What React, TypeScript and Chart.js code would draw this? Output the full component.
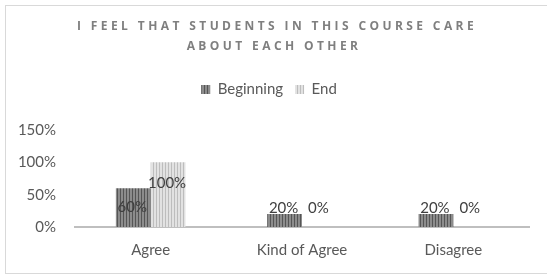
import React, { useEffect, useRef } from "react";
import { Chart, registerables } from "chart.js";

Chart.register(...registerables);

const titleLines = ["I FEEL THAT STUDENTS IN THIS COURSE CARE", "ABOUT EACH OTHER"];
const categories = ["Agree", "Kind of Agree", "Disagree"];
const seriesNames = ["Beginning", "End"];
const beginningValues = [0.6, 0.2, 0.2];
const endValues = [1.0, 0.0, 0.0];
const yTicks = [0, 0.5, 1.0, 1.5];

const FONT = "Lato, 'Open Sans', sans-serif";
const TFONT = "'Open Sans', 'Noto Sans', sans-serif";
const LEGEND_EXTRA = 23;

function makeStripe(dark: string, light: string): CanvasPattern | string {
  const c = document.createElement("canvas");
  c.width = 3;
  c.height = 4;
  const g = c.getContext("2d");
  if (!g) return dark;
  g.fillStyle = light;
  g.fillRect(0, 0, 3, 4);
  g.fillStyle = dark;
  g.fillRect(0, 0, 1, 4);
  const p = g.createPattern(c, "repeat");
  return p || dark;
}

const legendGapPlugin = {
  id: "legendGap",
  beforeLayout(chart: any) {
    const lg = chart.legend;
    if (lg && !lg.__gapPatched) {
      const orig = lg.fit.bind(lg);
      lg.fit = function () {
        orig();
        this.height += LEGEND_EXTRA;
      };
      lg.__gapPatched = true;
    }
  },
};

const framePlugin = {
  id: "frame",
  beforeDraw(chart: any) {
    const ctx = chart.ctx;
    ctx.save();
    ctx.fillStyle = "#ffffff";
    ctx.fillRect(0, 0, chart.width, chart.height);
    ctx.strokeStyle = "#d9d9d9";
    ctx.lineWidth = 1;
    ctx.strokeRect(5.5, 5.5, chart.width - 4, chart.height - 7);
    ctx.restore();
  },
  afterDraw(chart: any) {
    const ctx = chart.ctx;
    ctx.save();
    ctx.fillStyle = "#7f7f7f";
    ctx.font = `bold 12px ${TFONT}`;
    (ctx as any).letterSpacing = "3.4px";
    ctx.textAlign = "center";
    ctx.textBaseline = "middle";
    ctx.fillText(titleLines[0], 277, 27);
    ctx.fillText(titleLines[1], 274, 47);
    ctx.restore();
  },
};

const labelPlugin = {
  id: "barLabels",
  afterDatasetsDraw(chart: any) {
    const ctx = chart.ctx;
    const base = chart.scales.y.getPixelForValue(0);
    ctx.save();
    ctx.fillStyle = "#404040";
    ctx.font = `15px ${FONT}`;
    ctx.textAlign = "center";
    ctx.textBaseline = "middle";
    chart.data.datasets.forEach((ds: any, di: number) => {
      const meta = chart.getDatasetMeta(di);
      meta.data.forEach((bar: any, i: number) => {
        const v = ds.data[i];
        const center = (bar.y + base) / 2;
        const y = Math.min(center, base - 19, bar.y + 21);
        ctx.fillText(`${Math.round(v * 100)}%`, bar.x - 1, y);
      });
    });
    ctx.restore();
  },
};

export default function App() {
  const ref = useRef<HTMLCanvasElement | null>(null);
  useEffect(() => {
    document.body.style.margin = "0";
    if (!ref.current) return;
    const darkPat = makeStripe("#555555", "#8c8c8c");
    const lightPat = makeStripe("#bdbdbd", "#e2e2e2");
    const chart = new Chart(ref.current, {
      type: "bar",
      data: {
        labels: categories,
        datasets: [
          {
            label: seriesNames[0],
            data: beginningValues,
            backgroundColor: darkPat as any,
            borderWidth: 0,
            categoryPercentage: 0.46,
            barPercentage: 1,
          },
          {
            label: seriesNames[1],
            data: endValues,
            backgroundColor: lightPat as any,
            borderWidth: 0,
            categoryPercentage: 0.46,
            barPercentage: 1,
          },
        ],
      },
      options: {
        animation: false,
        responsive: false,
        devicePixelRatio: 1,
        layout: { padding: { top: 70, right: 18, left: 9, bottom: 0 } },
        plugins: {
          title: { display: false },
          tooltip: { enabled: false },
          legend: {
            display: true,
            position: "top",
            labels: {
              boxWidth: 9,
              boxHeight: 9,
              color: "#595959",
              font: { family: FONT, size: 15 },
              padding: 12,
            },
          },
        },
        scales: {
          x: {
            afterFit: (axis: any) => {
              axis.height = 48;
            },
            grid: { display: false, drawTicks: false },
            border: { display: true, color: "#bfbfbf", width: 2 },
            ticks: {
              color: "#595959",
              font: { family: FONT, size: 15 },
              padding: 14,
            },
          },
          y: {
            min: 0,
            max: 1.5,
            afterFit: (axis: any) => {
              axis.width = 66;
            },
            afterBuildTicks: (axis: any) => {
              axis.ticks = yTicks.map((v) => ({ value: v }));
            },
            grid: { display: false, drawTicks: false },
            border: { display: false },
            ticks: {
              color: "#595959",
              font: { family: FONT, size: 15 },
              padding: 19,
              callback: (v: any) => `${Math.round(Number(v) * 100)}%`,
            },
          },
        },
      },
      plugins: [legendGapPlugin, framePlugin, labelPlugin],
    });
    return () => chart.destroy();
  }, []);
  return (
    <div style={{ width: 547, height: 275 }}>
      <canvas ref={ref} width={547} height={275} style={{ width: 547, height: 275, display: "block" }} />
    </div>
  );
}
